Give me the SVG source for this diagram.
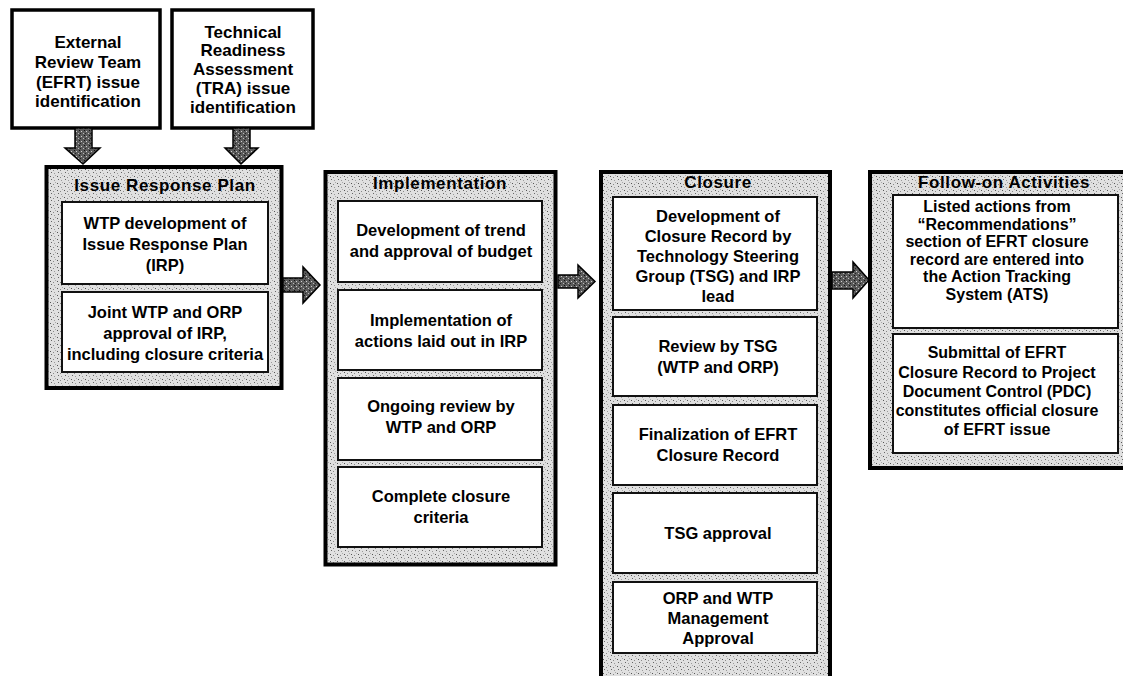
<svg xmlns="http://www.w3.org/2000/svg" width="1123" height="676" viewBox="0 0 1123 676">
<defs>
<pattern id="stip" width="7" height="7" patternUnits="userSpaceOnUse">
<rect width="7" height="7" fill="#e0e0e0"/>
<rect x="1" y="1" width="1" height="1" fill="#555"/>
<rect x="4" y="2" width="1" height="1" fill="#888"/>
<rect x="2" y="4" width="1" height="1" fill="#666"/>
<rect x="5" y="5" width="1" height="1" fill="#999"/>
<rect x="6" y="0" width="1" height="1" fill="#aaa"/>
</pattern>
<pattern id="dark" width="5" height="5" patternUnits="userSpaceOnUse">
<rect width="5" height="5" fill="#5a5a5a"/>
<rect x="1" y="1" width="1" height="1" fill="#d0d0d0"/>
<rect x="3" y="3" width="1" height="1" fill="#bbb"/>
<rect x="4" y="0" width="1" height="1" fill="#111"/>
<rect x="0" y="3" width="1" height="1" fill="#222"/>
</pattern>
</defs>
<style>
.top{fill:#fff;stroke:#000;stroke-width:3.5}
.panel{fill:url(#stip);stroke:#000;stroke-width:4}
.inner{fill:#fff;stroke:#111;stroke-width:2}
.arrow{fill:url(#dark);stroke:#000;stroke-width:1.5;stroke-linejoin:miter}
text{font-family:"Liberation Sans",Arial,sans-serif;font-weight:bold;fill:#000;text-anchor:middle}
.t{font-size:16.5px}
.f1{font-size:16px}
.f2{font-size:16px}
.tt{font-size:17px}
.h{font-size:17px;letter-spacing:0.6px}
</style>
<rect width="1123" height="676" fill="#fff"/>

<g id="efrt-id">
<rect class="top" x="12" y="10" width="148" height="118"/>
<text class="tt" x="88" y="48">External</text>
<text class="tt" x="88" y="68">Review Team</text>
<text class="tt" x="88" y="88">(EFRT) issue</text>
<text class="tt" x="88" y="107">identification</text>
</g>

<g id="tra-id">
<rect class="top" x="172" y="10" width="141" height="118"/>
<text class="tt" x="243" y="38">Technical</text>
<text class="tt" x="243" y="56">Readiness</text>
<text class="tt" x="243" y="75">Assessment</text>
<text class="tt" x="243" y="94">(TRA) issue</text>
<text class="tt" x="243" y="113">identification</text>
</g>

<g id="irp">
<rect class="panel" x="46.5" y="167" width="235" height="221"/>
<text class="h" x="165" y="191">Issue Response Plan</text>
<g id="irp-1">
<rect class="inner" x="62" y="202" width="206" height="82"/>
<text class="t" x="165" y="229">WTP development of</text>
<text class="t" x="165" y="250">Issue Response Plan</text>
<text class="t" x="165" y="271">(IRP)</text>
</g>
<g id="irp-2">
<rect class="inner" x="62" y="292" width="206" height="80"/>
<text class="t" x="165" y="318">Joint WTP and ORP</text>
<text class="t" x="165" y="339">approval of IRP,</text>
<text class="t" x="165" y="360">including closure criteria</text>
</g>
</g>

<g id="impl">
<rect class="panel" x="325.5" y="172" width="230" height="392.5"/>
<text class="h" x="440" y="189">Implementation</text>
<g id="impl-1">
<rect class="inner" x="338" y="201" width="204" height="81"/>
<text class="t" x="441" y="236">Development of trend</text>
<text class="t" x="441" y="257">and approval of budget</text>
</g>
<g id="impl-2">
<rect class="inner" x="338" y="290" width="204" height="80"/>
<text class="t" x="441" y="326">Implementation of</text>
<text class="t" x="441" y="347">actions laid out in IRP</text>
</g>
<g id="impl-3">
<rect class="inner" x="338" y="378" width="204" height="82"/>
<text class="t" x="441" y="412">Ongoing review by</text>
<text class="t" x="441" y="433">WTP and ORP</text>
</g>
<g id="impl-4">
<rect class="inner" x="338" y="467" width="204" height="80"/>
<text class="t" x="441" y="502">Complete closure</text>
<text class="t" x="441" y="523">criteria</text>
</g>
</g>

<g id="closure">
<rect class="panel" x="601" y="172" width="229" height="530"/>
<text class="h" x="718" y="188">Closure</text>
<g id="cl-1">
<rect class="inner" x="613" y="197" width="204" height="113"/>
<text class="t" x="718" y="222">Development of</text>
<text class="t" x="718" y="242">Closure Record by</text>
<text class="t" x="718" y="262">Technology Steering</text>
<text class="t" x="718" y="282">Group (TSG) and IRP</text>
<text class="t" x="718" y="302">lead</text>
</g>
<g id="cl-2">
<rect class="inner" x="613" y="317" width="204" height="79"/>
<text class="t" x="718" y="352">Review by TSG</text>
<text class="t" x="718" y="373">(WTP and ORP)</text>
</g>
<g id="cl-3">
<rect class="inner" x="613" y="405" width="204" height="80"/>
<text class="t" x="718" y="440">Finalization of EFRT</text>
<text class="t" x="718" y="461">Closure Record</text>
</g>
<g id="cl-4">
<rect class="inner" x="613" y="493" width="204" height="80"/>
<text class="t" x="718" y="539">TSG approval</text>
</g>
<g id="cl-5">
<rect class="inner" x="613" y="582" width="204" height="71"/>
<text class="t" x="718" y="604">ORP and WTP</text>
<text class="t" x="718" y="624">Management</text>
<text class="t" x="718" y="644">Approval</text>
</g>
</g>

<g id="followon">
<rect class="panel" x="870" y="172" width="270" height="296"/>
<text class="h" x="1004" y="188">Follow-on Activities</text>
<g id="fo-1">
<rect class="inner" x="893" y="195" width="225" height="133"/>
<text class="f1" x="997" y="212">Listed actions from</text>
<text class="f1" x="997" y="229.5">“Recommendations”</text>
<text class="f1" x="997" y="247">section of EFRT closure</text>
<text class="f1" x="997" y="264.5">record are entered into</text>
<text class="f1" x="997" y="282">the Action Tracking</text>
<text class="f1" x="997" y="299.5">System (ATS)</text>
</g>
<g id="fo-2">
<rect class="inner" x="893" y="334" width="225" height="119"/>
<text class="f2" x="997" y="358">Submittal of EFRT</text>
<text class="f2" x="997" y="378">Closure Record to Project</text>
<text class="f2" x="997" y="397">Document Control (PDC)</text>
<text class="f2" x="997" y="416">constitutes official closure</text>
<text class="f2" x="997" y="435">of EFRT issue</text>
</g>
</g>

<g id="connectors">
<polygon class="arrow" points="75,128 92,128 92,148 100,148 83,164 65,148 75,148"/>
<polygon class="arrow" points="233,128 250,128 250,148 258,148 241,164 225,148 233,148"/>
<polygon class="arrow" points="283,278 303,278 303,267 320,285 303,303 303,292 283,292"/>
<polygon class="arrow" points="558,275 578,275 578,265 595,281.5 578,298 578,288 558,288"/>
<polygon class="arrow" points="832,272 853,272 853,262 869,280 853,298 853,289 832,289"/>
</g>
</svg>
